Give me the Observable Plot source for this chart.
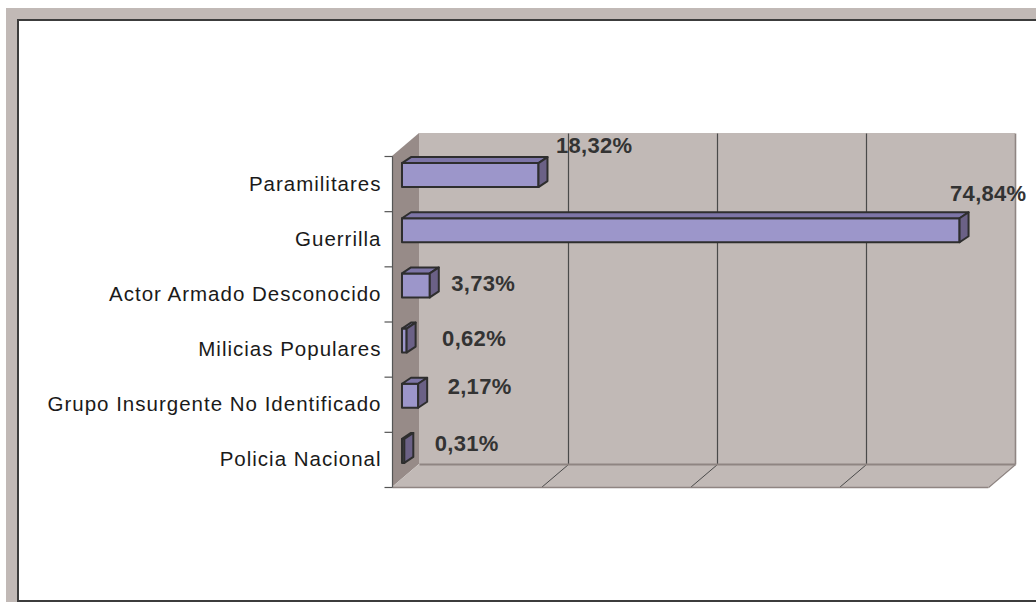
<!DOCTYPE html>
<html><head><meta charset="utf-8">
<script src="https://cdn.jsdelivr.net/npm/d3@7"></script>
<script src="https://cdn.jsdelivr.net/npm/@observablehq/plot@0.6"></script>
<style>
body{margin:0;background:#fff;}
#wrap{position:relative;width:1036px;height:602px;overflow:hidden;}
#outer{position:absolute;left:6px;top:8px;width:1030px;height:594px;background:#c1b9b6;}
#inner{position:absolute;left:17px;top:19px;width:1019px;height:583px;box-sizing:border-box;background:#fff;border-left:2px solid #3c3c3c;border-top:2px solid #3c3c3c;border-bottom:2px solid #3c3c3c;}
#chart{position:absolute;left:0;top:0;}
.cat text{letter-spacing:1px;}
.val text{letter-spacing:0.3px;}
</style></head>
<body><div id="wrap"><div id="outer"></div><div id="inner"></div><div id="chart"></div></div>
<script>
// ---- data ----
const categories = ["Paramilitares", "Guerrilla", "Actor Armado Desconocido", "Milicias Populares", "Grupo Insurgente No Identificado", "Policia Nacional"];
const values = [18.32, 74.84, 3.73, 0.62, 2.17, 0.31];
const valueLabels = ["18,32%", "74,84%", "3,73%", "0,62%", "2,17%", "0,31%"];
const gridTicks = [0, 20, 40, 60, 80];
// label nudges in pixels (layout only)
const labelNudge = [[27, -38], [0, -45], [31, -10], [45, -11], [39, -18], [40, -16]];

// ---- layout ----
const xMax = gridTicks[gridTicks.length - 1];
const nCat = categories.length;
const xRange = [392, 988], yRange = [156, 487];
const kx = xMax / (xRange[1] - xRange[0]);   // data per px
const ky = nCat / (yRange[1] - yRange[0]);
const boxDX = 27 * kx, boxDY = -23 * ky;     // depth of the 3D box
const barDX = 9 * kx, barDY = -6 * ky;       // depth of each bar
const barHalf = 12 * ky;

const rows = categories.map((c, i) => ({c, i, v: values[i], yt: i + 0.5 - barHalf, yb: i + 0.5 + barHalf}));

const sideWall = [{x: 0, y1: 0, y2: nCat}, {x: boxDX, y1: boxDY, y2: nCat + boxDY}];
const floor = [{y: nCat, x1: 0, x2: xMax}, {y: nCat + boxDY, x1: boxDX, x2: xMax + boxDX}];
const back = [{x1: boxDX, x2: xMax + boxDX, y1: boxDY, y2: nCat + boxDY}];
const inner = gridTicks.slice(1, -1);

const topFaces = rows.flatMap(r => [
  {i: r.i, y: r.yt, x1: 0, x2: r.v},
  {i: r.i, y: r.yt + barDY, x1: barDX, x2: r.v + barDX}
]);
const sideFaces = rows.flatMap(r => [
  {i: r.i, x: r.v, y1: r.yt, y2: r.yb},
  {i: r.i, x: r.v + barDX, y1: r.yt + barDY, y2: r.yb + barDY}
]);

const wallFill = "#c1b9b6", sideFill = "#978b88", edge = "#8f8582", grid = "#4a4a4a";
const barStroke = "#2e2e2e";
const barOpts = {dx: 10, dy: -8.5, stroke: barStroke, strokeWidth: 2, strokeLinejoin: "round"};

const marks = [
  Plot.rect(back, {x1: "x1", x2: "x2", y1: "y1", y2: "y2", fill: wallFill}),
  Plot.areaY(sideWall, {x: "x", y1: "y1", y2: "y2", fill: sideFill, curve: "linear"}),
  Plot.areaX(floor, {y: "y", x1: "x1", x2: "x2", fill: wallFill, curve: "linear"}),
  // back wall gridlines
  Plot.link(inner, {x1: d => d + boxDX, x2: d => d + boxDX, y1: () => boxDY, y2: () => nCat + boxDY, stroke: grid, strokeWidth: 1.2}),
  // floor diagonals
  Plot.link(inner, {x1: d => d, x2: d => d + boxDX, y1: () => nCat, y2: () => nCat + boxDY, stroke: grid, strokeWidth: 1}),
  // box edges
  Plot.link([xMax], {x1: d => d + boxDX, x2: d => d + boxDX, y1: () => boxDY, y2: () => nCat + boxDY, stroke: edge, strokeWidth: 1.6}),
  Plot.link([xMax], {x1: () => boxDX, x2: d => d + boxDX, y1: () => nCat + boxDY, y2: () => nCat + boxDY, stroke: edge, strokeWidth: 2}),
  Plot.link([xMax], {x1: () => 0, x2: d => d, y1: () => nCat, y2: () => nCat, stroke: edge, strokeWidth: 1.6}),
  Plot.link([xMax], {x1: d => d, x2: d => d + boxDX, y1: () => nCat, y2: () => nCat + boxDY, stroke: edge, strokeWidth: 1.6}),
  // left axis and ticks
  Plot.link([0], {x1: () => 0, x2: () => 0, y1: () => 0, y2: () => nCat, stroke: "#555", strokeWidth: 1.2}),
  Plot.link(d3.range(nCat + 1), {x1: () => -8 * kx, x2: () => 0, y1: d => d, y2: d => d, stroke: "#555", strokeWidth: 1.2}),
  // bars
  Plot.rect(rows, {x1: () => 0, x2: "v", y1: "yt", y2: "yb", fill: "#9c96ca", ...barOpts}),
  Plot.areaX(topFaces, {y: "y", x1: "x1", x2: "x2", z: "i", fill: "#7d75a7", curve: "linear", ...barOpts}),
  Plot.areaY(sideFaces, {x: "x", y1: "y1", y2: "y2", z: "i", fill: "#6b6186", curve: "linear", ...barOpts}),
  // category labels
  Plot.text(rows, {x: () => 0, y: d => d.i + 0.5, text: "c", textAnchor: "end", dx: -11, fontSize: 20.5, fill: "#1a1a1a", className: "cat"}),
  // value labels
  ...rows.map(r => Plot.text([r], {x: "v", y: d => d.i + 0.5, text: d => valueLabels[d.i], textAnchor: "start",
    dx: labelNudge[r.i][0], dy: labelNudge[r.i][1], fontSize: 22, fontWeight: "bold", fill: "#333", className: "val"}))
];

const chart = Plot.plot({
  width: 1036, height: 602,
  margin: 0,
  style: {background: "transparent", fontFamily: "'Liberation Sans', Arial, sans-serif"},
  x: {domain: [0, xMax], range: xRange, axis: null},
  y: {domain: [0, nCat], range: yRange, axis: null},
  marks
});
document.getElementById("chart").appendChild(chart);
</script>
</body></html>
